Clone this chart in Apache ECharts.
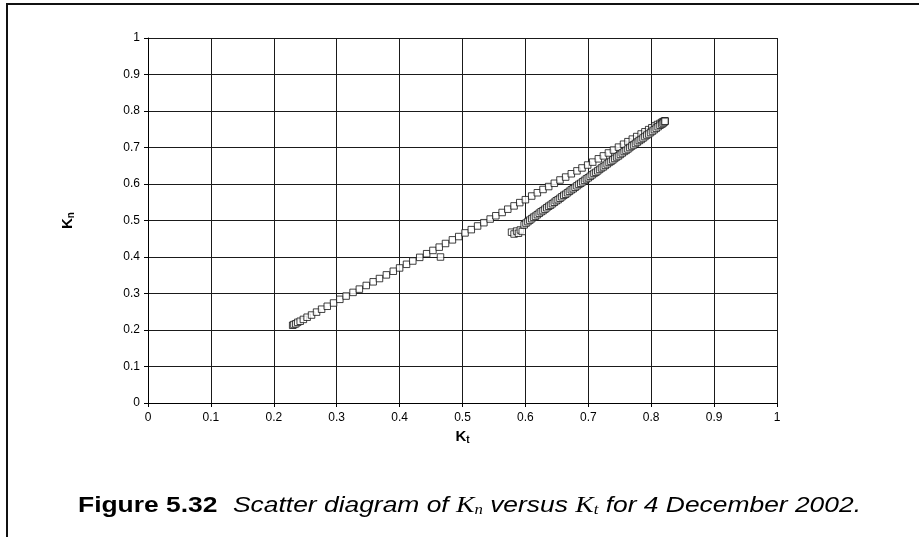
<!DOCTYPE html>
<html>
<head>
<meta charset="utf-8">
<script src="https://cdn.jsdelivr.net/npm/echarts@6/dist/echarts.min.js"></script>
<style>
  html, body { margin: 0; padding: 0; background: #fff; }
  #chart { width: 919px; height: 537px; }
</style>
</head>
<body>
<div id="chart"></div>
<script>
// axis ticks
var xTicks = [0, 0.1, 0.2, 0.3, 0.4, 0.5, 0.6, 0.7, 0.8, 0.9, 1];
var yTicks = [0, 0.1, 0.2, 0.3, 0.4, 0.5, 0.6, 0.7, 0.8, 0.9, 1];

// upper branch (Kt, Kn)
var upperKt = [0.230,0.232,0.235,0.238,0.242,0.247,0.253,0.260,0.268,0.276,0.285,0.295,0.305,0.315,0.326,0.336,0.347,0.358,0.368,0.379,0.390,0.400,0.411,0.421,0.432,0.443,0.453,0.463,0.473,0.484,0.494,0.504,0.514,0.524,0.534,0.544,0.553,0.563,0.572,0.582,0.591,0.600,0.610,0.619,0.628,0.637,0.646,0.655,0.664,0.673,0.682,0.690,0.699,0.707,0.716,0.724,0.732,0.740,0.748,0.756,0.763,0.770,0.777,0.784,0.790,0.796,0.801,0.806,0.810,0.814,0.817,0.819,0.821,0.822];
var upperKn = [0.213,0.215,0.217,0.221,0.224,0.229,0.235,0.241,0.249,0.257,0.265,0.274,0.284,0.293,0.303,0.312,0.322,0.332,0.341,0.351,0.361,0.370,0.380,0.389,0.399,0.409,0.418,0.427,0.437,0.447,0.456,0.466,0.475,0.485,0.494,0.504,0.513,0.522,0.531,0.540,0.549,0.557,0.567,0.576,0.585,0.593,0.602,0.611,0.619,0.628,0.636,0.644,0.652,0.660,0.669,0.677,0.685,0.693,0.701,0.709,0.716,0.723,0.730,0.737,0.743,0.749,0.754,0.759,0.763,0.766,0.769,0.771,0.772,0.773];

// lower branch (Kt, Kn)
var lowerKt = [0.578,0.582,0.586,0.589,0.592,0.595,0.598,0.601,0.604,0.607,0.610,0.613,0.616,0.619,0.622,0.625,0.628,0.631,0.634,0.637,0.640,0.643,0.646,0.649,0.652,0.655,0.658,0.661,0.664,0.667,0.670,0.673,0.676,0.679,0.682,0.685,0.688,0.691,0.694,0.697,0.700,0.703,0.706,0.709,0.712,0.715,0.718,0.721,0.724,0.727,0.730,0.733,0.736,0.739,0.742,0.745,0.748,0.751,0.754,0.757,0.760,0.763,0.766,0.769,0.772,0.775,0.778,0.781,0.784,0.787,0.790,0.793,0.796,0.799,0.802,0.805,0.808,0.811,0.814,0.817,0.819,0.821,0.822];
var lowerKn = [0.468,0.463,0.471,0.465,0.474,0.470,0.488,0.493,0.497,0.501,0.505,0.509,0.512,0.516,0.520,0.524,0.527,0.531,0.535,0.539,0.542,0.546,0.550,0.554,0.557,0.561,0.565,0.569,0.572,0.576,0.580,0.584,0.587,0.591,0.595,0.599,0.602,0.606,0.610,0.614,0.617,0.621,0.625,0.629,0.632,0.636,0.640,0.644,0.647,0.651,0.655,0.659,0.662,0.666,0.670,0.674,0.677,0.681,0.685,0.689,0.692,0.696,0.700,0.704,0.707,0.711,0.715,0.719,0.722,0.726,0.730,0.734,0.737,0.741,0.745,0.749,0.753,0.757,0.761,0.764,0.767,0.770,0.772];

// stray point
var strayKt = [0.465];
var strayKn = [0.400];

function pairs(xs, ys) {
  var out = [];
  for (var i = 0; i < xs.length; i++) out.push([xs[i], ys[i]]);
  return out;
}

var points = pairs(upperKt, upperKn).concat(pairs(strayKt, strayKn), pairs(lowerKt, lowerKn));

var chart = echarts.init(document.getElementById('chart'));
var font = '"Liberation Sans", Arial, sans-serif';
var serif = '"Liberation Serif", "Times New Roman", serif';
var gridLine = { lineStyle: { color: '#1a1a1a', width: 1 } };
var nameRich = {
  k: { fontFamily: font, fontWeight: 'bold', fontSize: 15, color: '#000' },
  s: { fontFamily: font, fontWeight: 'bold', fontSize: 10, color: '#000', padding: [7, 0, 0, 0] }
};

var option = {
  animation: false,
  backgroundColor: '#fff',
  textStyle: { fontFamily: font },
  graphic: [{
    type: 'polyline',
    silent: true,
    shape: { points: [[7, 537], [7, 4], [919, 4]] },
    style: { stroke: '#111', lineWidth: 2, fill: null }
  }, {
    // caption, stretched a little sideways like the source figure
    type: 'text',
    silent: true,
    x: 78,
    y: 506,
    scaleX: 1.2,
    style: {
      text: '{b|Figure 5.32}{i|Scatter diagram of }{k|K}{s|n}{i| versus }{k|K}{s|t}{i| for 4 December 2002.}',
      verticalAlign: 'middle',
      rich: {
        b: { fontFamily: font, fontWeight: 'bold', fontSize: 22, fill: '#000', padding: [0, 13, 0, 0] },
        i: { fontFamily: font, fontStyle: 'italic', fontWeight: 'normal', fontSize: 22, fill: '#000' },
        k: { fontFamily: serif, fontStyle: 'italic', fontWeight: 'normal', fontSize: 23, fill: '#000' },
        s: { fontFamily: serif, fontStyle: 'italic', fontWeight: 'normal', fontSize: 14, fill: '#000', padding: [9, 0, 0, 0] }
      }
    }
  }],
  grid: { left: 148, right: 142, top: 38, bottom: 134 },
  xAxis: {
    type: 'value',
    min: xTicks[0],
    max: xTicks[xTicks.length - 1],
    interval: 0.1,
    name: '{k|K}{s|t}',
    nameLocation: 'middle',
    nameGap: 18,
    nameTextStyle: { rich: nameRich },
    axisLine: { onZero: false, lineStyle: { color: '#000', width: 1 } },
    axisTick: { show: true, length: 4, lineStyle: { color: '#000' } },
    axisLabel: { color: '#000', fontSize: 12, margin: 9, fontFamily: font },
    splitLine: gridLine
  },
  yAxis: {
    type: 'value',
    min: yTicks[0],
    max: yTicks[yTicks.length - 1],
    interval: 0.1,
    name: '{k|K}{s|n}',
    nameLocation: 'middle',
    nameGap: 72,
    nameTextStyle: { rich: nameRich },
    axisLine: { onZero: false, lineStyle: { color: '#000', width: 1 } },
    axisTick: { show: true, length: 4, lineStyle: { color: '#000' } },
    axisLabel: { color: '#000', fontSize: 12, margin: 8, fontFamily: font },
    splitLine: gridLine
  },
  series: [{
    type: 'scatter',
    symbol: 'rect',
    symbolSize: 6.5,
    data: points,
    itemStyle: { color: '#fff', borderColor: '#111', borderWidth: 1 }
  }]
};
chart.setOption(option);
</script>
</body>
</html>
